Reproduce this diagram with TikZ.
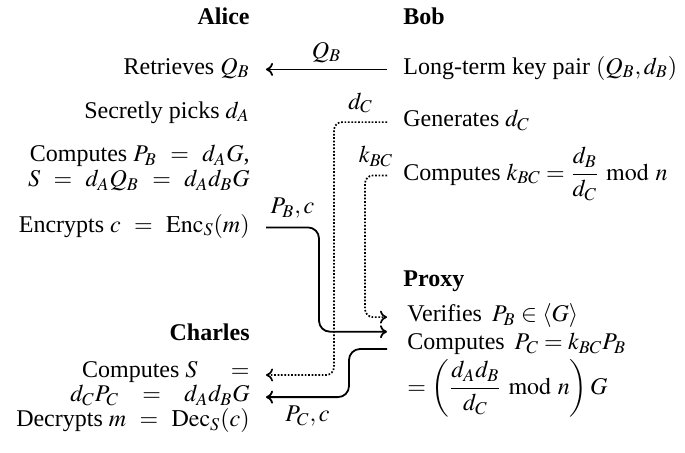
\documentclass[tikz,border=0pt]{standalone}
\usepackage{amsmath}
\usepackage{mathptmx}
\usepackage[no-math]{fontspec}
\setmainfont{Liberation Serif}
\usetikzlibrary{calc,arrows.meta}
\begin{document}
\begin{tikzpicture}[x=0.5pt,y=-0.5pt,
  >={To[length=3.5pt,width=6.5pt]},
  txt/.style={inner xsep=8pt, inner ysep=0.5pt, font=\fontsize{12}{12.5}\selectfont},
  lft/.style={txt, anchor=base east},
  rgt/.style={txt, anchor=base west},
  hdr/.style={font=\fontsize{12}{12.5}\selectfont\bfseries},
  sol/.style={line width=0.9pt, rounded corners=5.5pt},
  dotline/.style={line width=0.85pt, dash pattern=on 0.85pt off 0.85pt, rounded corners=4pt},
  lbl/.style={font=\fontsize{12}{12.5}\selectfont, inner sep=4pt}
]
\useasboundingbox (0,0) rectangle (685,452);

% Alice / Charles (left column)
\node[lft,hdr] (alice) at (266,24) {Alice};
\node[lft] (ret) at (266,74) {Retrieves $Q_B$};
\node[lft] (sec) at (266,118) {Secretly picks $d_A$};
\node[lft] (cpb) at (266,161.5) {Computes $P_B \;\,=\;\, d_AG$,};
\node[lft] (cs) at (266,186.5) {$S \;\,=\;\, d_AQ_B \;\,=\;\, d_Ad_BG$};
\node[lft] (enc) at (266,232) {Encrypts $c \;\,=\;\, \mathrm{Enc}_S(m)$};
\node[lft,hdr] (charles) at (266,340) {Charles};
\node[lft] (chs) at (266,377) {Computes $S\hspace{14pt}=$};
\node[lft] (chd) at (266,401.7) {$d_CP_C\hspace{9pt}=\hspace{9pt}d_Ad_BG$};
\node[lft] (dec) at (266,426.7) {Decrypts $m \;\,=\;\, \mathrm{Dec}_S(c)$};

% Bob / Proxy (right column)
\node[rgt,hdr] (bob) at (387,24) {Bob};
\node[rgt] (key) at (387,74) {Long-term key pair $(Q_B, d_B)$};
\node[rgt] (gen) at (387,126.7) {Generates $d_C$};
\node[rgt] (kbc) at (387,180) {Computes $k_{BC} = \dfrac{d_B}{d_C} \bmod n$};
\node[rgt,hdr] (proxy) at (387,286.7) {Proxy};
\node[rgt] (prx) at (387,321.7) {\hspace{2pt}\begin{tabular}[t]{@{}l@{}}
  Verifies\, $P_B \in \langle G\rangle$\\[1.6pt]
  Computes\, $P_C = k_{BC}P_B$\\[1pt]
  $= \left(\dfrac{d_Ad_B}{d_C} \bmod n\right) G$
\end{tabular}};

% connectors
\draw[sol,->] (key.mid west) -- (ret.mid east) node[lbl,midway,above,yshift=-1pt] {$Q_B$};
\draw[dotline,->] (gen.mid west) -| ($(chs.base east)+(68,-2)$) node[lbl,pos=0.25,above] {$d_C$}
  -- ($(chs.base east)+(0,-2)$);
\draw[dotline,->] (kbc.mid west) -| ($(prx.mid west)+(-22,0)$) node[lbl,pos=0.25,above] {$k_{BC}$}
  -- (prx.mid west);
\draw[sol,->] (enc.mid east) -| ($(prx.base west)+(-68,10)$) node[lbl,pos=0.25,above] {$P_B, c$}
  -- ($(prx.base west)+(0,10)$);
\draw[sol,->] ($(prx.base west)+(0,27.3)$) -| ($(chd.mid east)+(83,0)$)
  -- (chd.mid east) node[lbl,midway,below] {$P_C, c$};
\end{tikzpicture}
\end{document}
